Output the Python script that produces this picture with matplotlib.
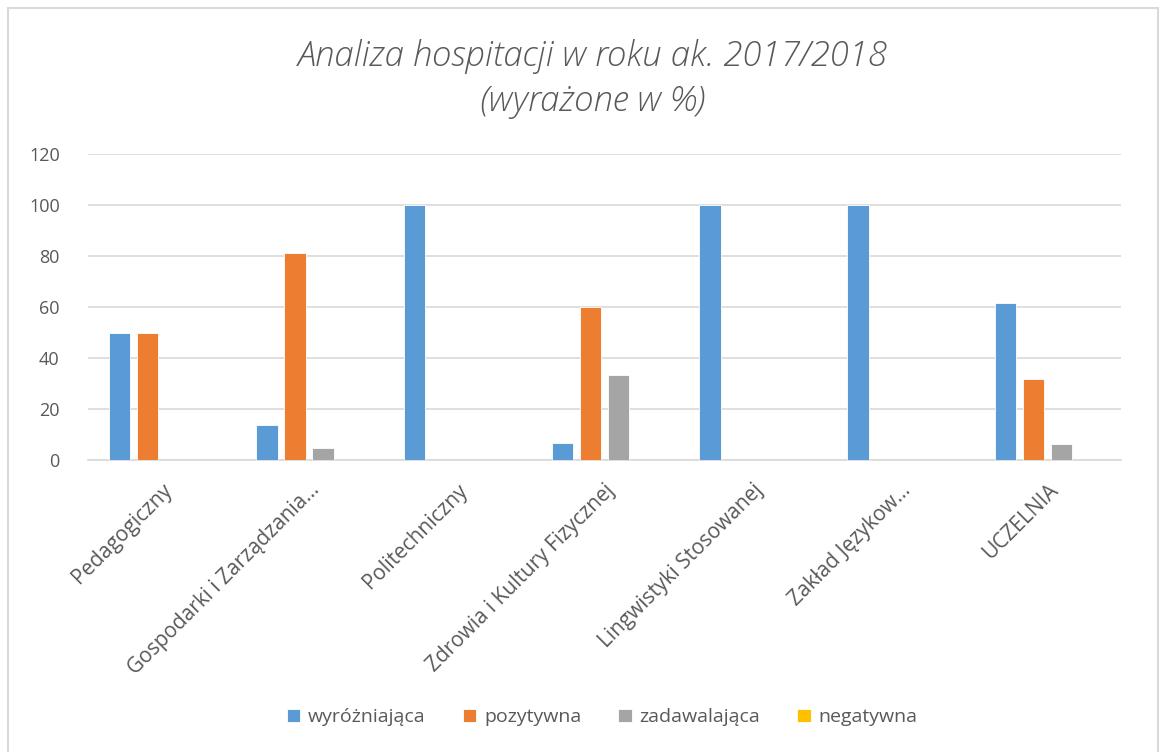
import matplotlib.pyplot as plt
import numpy as np
from matplotlib.patches import Rectangle

# dane (w %)
categories = ['Pedagogiczny', 'Gospodarki i Zarządzania…', 'Politechniczny',
              'Zdrowia i Kultury Fizycznej', 'Lingwistyki Stosowanej',
              'Zakład Językow…', 'UCZELNIA']
wyrozniajaca = [50, 13.95, 100, 6.67, 100, 100, 61.7]
pozytywna = [50, 81.4, 0, 60, 0, 0, 32.0]
zadawalajaca = [0, 4.65, 0, 33.33, 0, 0, 6.3]
negatywna = [0, 0, 0, 0, 0, 0, 0]

series = [('wyróżniająca', wyrozniajaca, '#5b9bd5'),
          ('pozytywna', pozytywna, '#ed7d31'),
          ('zadawalająca', zadawalajaca, '#a5a5a5'),
          ('negatywna', negatywna, '#ffc000')]

text_color = '#595959'
grid_color = '#d9d9d9'
font = ['Open Sans', 'DejaVu Sans']

fig = plt.figure(figsize=(11.67, 7.52), dpi=100)
fig.patches.append(Rectangle((8 / 1167, -0.01), 1150 / 1167, 1.0 - 8 / 752 + 0.01,
                             transform=fig.transFigure, fill=False,
                             edgecolor=grid_color, linewidth=1.5))

ax = fig.add_axes([0.075, 0.388, 0.886, 0.407])

x = np.arange(len(categories))
pitch = 0.19
width = 0.145
for i, (name, vals, color) in enumerate(series):
    ax.bar(x + (i - 1.5) * pitch, vals, width, color=color, label=name,
           edgecolor='white', linewidth=0.6, zorder=3)

ax.set_xlim(-0.5, len(categories) - 0.5)
ax.set_ylim(0, 120)
ax.set_yticks(range(0, 121, 20))
ax.yaxis.grid(True, color=grid_color, linewidth=1.2, zorder=0)
for s in ['top', 'right', 'left']:
    ax.spines[s].set_visible(False)
ax.spines['bottom'].set_color(grid_color)
ax.spines['bottom'].set_linewidth(1.2)
ax.tick_params(length=0, colors=text_color, labelsize=13)
ax.tick_params(axis='y', pad=20)
ax.tick_params(axis='x', pad=14)
ax.set_xticks(x)
ax.set_xticklabels(categories, rotation=45, ha='right', rotation_mode='anchor',
                   family=font, color=text_color, fontsize=15)
for lab in ax.get_yticklabels():
    lab.set_family(font)

fig.text(0.508, 0.925, 'Analiza hospitacji w roku ak. 2017/2018',
         ha='center', va='center', fontsize=25, style='italic',
         color=text_color, family=font, fontweight='light')
fig.text(0.508, 0.865, '(wyrażone w %)',
         ha='center', va='center', fontsize=25, style='italic',
         color=text_color, family=font, fontweight='light')

fig.legend(loc='center', bbox_to_anchor=(0.516, 0.046), ncol=4, frameon=False,
           prop={'family': font, 'size': 14}, labelcolor=text_color,
           handlelength=0.7, handleheight=0.7, handletextpad=0.4,
           columnspacing=1.9)

fig.savefig('out.png', dpi=100)
